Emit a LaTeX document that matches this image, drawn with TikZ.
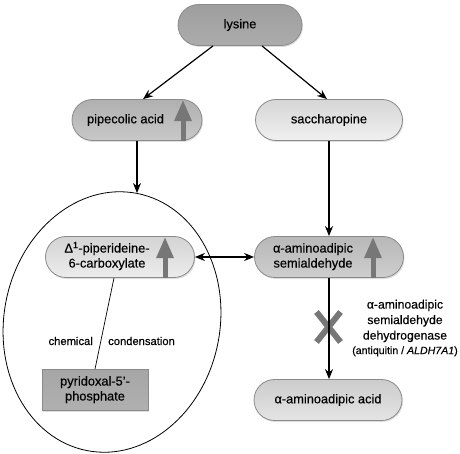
\documentclass[tikz,border=0pt]{standalone}
\usepackage{fontspec}
\setmainfont{Liberation Sans}[FakeBold=0.35]
\usetikzlibrary{shapes.misc,shapes.geometric,arrows.meta,calc,shadows}
\definecolor{gborder}{HTML}{8A8A8A}
\definecolor{garr}{HTML}{777777}
\newcommand\inarrow[2]{%
  \fill[garr] ([xshift=#2-2.5pt]#1.south) rectangle ([xshift=#2+2.5pt,yshift=-20pt]#1.north);
  \fill[garr] ([xshift=#2-9pt,yshift=-22pt]#1.north) -- ([xshift=#2,yshift=-1.5pt]#1.north) -- ([xshift=#2+9pt,yshift=-22pt]#1.north) -- cycle;}
\begin{document}
\begin{tikzpicture}[x=1pt,y=-1pt,
  pill/.style={rounded rectangle, draw=gborder, line width=0.8pt, minimum height=41pt,
    inner xsep=3pt, inner ysep=1pt, font=\fontsize{12.8}{15}\selectfont,
    drop shadow={shadow xshift=1pt, shadow yshift=-1.5pt, opacity=0.25}},
  box/.style={rectangle, draw=gborder, line width=0.8pt, minimum height=41pt,
    inner sep=1pt, font=\fontsize{12.8}{15}\selectfont,
    drop shadow={shadow xshift=1pt, shadow yshift=-1.5pt, opacity=0.25}},
  shadelys/.style={top color={rgb,255:red,158;green,158;blue,158}, bottom color={rgb,255:red,172;green,172;blue,172}},
  shadepip/.style={top color={rgb,255:red,176;green,176;blue,176}, bottom color={rgb,255:red,200;green,200;blue,200}},
  shadesac/.style={top color={rgb,255:red,214;green,214;blue,214}, bottom color={rgb,255:red,240;green,240;blue,240}},
  shadedel/.style={top color={rgb,255:red,212;green,212;blue,212}, bottom color={rgb,255:red,236;green,236;blue,236}},
  shadesem/.style={top color={rgb,255:red,184;green,184;blue,184}, bottom color={rgb,255:red,206;green,206;blue,206}},
  shadeacid/.style={top color={rgb,255:red,204;green,204;blue,204}, bottom color={rgb,255:red,228;green,228;blue,228}},
  shadepyr/.style={top color={rgb,255:red,166;green,166;blue,166}, bottom color={rgb,255:red,176;green,176;blue,176}},
  conn/.style={-{Stealth[length=10pt,width=8pt]}, line width=1.2pt},
  biconn/.style={{Stealth[length=10pt,width=8pt]}-{Stealth[length=10pt,width=8pt]}, line width=1.2pt},
  lbl/.style={font=\fontsize{11.2}{13}\selectfont, inner sep=1pt},
  enz/.style={font=\fontsize{12.2}{15.5}\selectfont, align=center, inner sep=1pt},
  xmark/.style={draw=garr, line width=6pt}
]
\useasboundingbox (0,0) rectangle (460,454);

% ellipse
\node[draw, ellipse, line width=0.8pt, minimum width=216pt, minimum height=262pt, inner sep=0pt, rotate=-11] (ell) at (112,322) {};

% nodes
\node[pill, shadelys, minimum width=130pt] (lys) at (240,25) {lysine};
\node[pill, shadepip, minimum width=136pt] (pip) at (137,120) {pipecolic acid\hspace*{23pt}};
\node[pill, shadesac, minimum width=153pt] (sac) at (329,120) {saccharopine};
\node[pill, shadedel, minimum width=155pt] (del) at (120,257)
  {\begin{tabular}{@{}c@{}}Δ\textsuperscript{1}-piperideine-\\6-carboxylate\end{tabular}\hspace*{26pt}};
\node[pill, shadesem, minimum width=155pt] (sem) at (329,257)
  {\begin{tabular}{@{}c@{}}α-aminoadipic\\semialdehyde\end{tabular}\hspace*{32pt}};
\node[pill, shadeacid, minimum width=154pt] (acid) at (328,400) {α-aminoadipic acid};
\node[box, shadepyr, minimum width=106pt] (pyr) at (95,390)
  {\begin{tabular}{@{}c@{}}pyridoxal-5’-\\phosphate\end{tabular}};

% up arrows inside nodes
\inarrow{pip}{46pt}
\inarrow{del}{45pt}
\inarrow{sem}{44pt}

% connectors
\draw[conn] ([xshift=-27pt]lys.south) -- ([xshift=6pt]pip.north);
\draw[conn] ([xshift=22pt]lys.south) -- ([xshift=-2pt]sac.north);
\draw[conn] (pip.south) -- (pip.south |- ell.north);
\draw[conn] (sac.south) -- (sem.north);
\draw[biconn] (del.east) -- (sem.west);
\draw[line width=0.7pt] ([xshift=-6pt]del.south) -- (pyr.north);

% blocked step
\coordinate (xc) at (328.5,327);
\draw[xmark] ([xshift=-12pt,yshift=15pt]xc) -- ([xshift=12pt,yshift=-15pt]xc);
\draw[xmark] ([xshift=12pt,yshift=15pt]xc) -- ([xshift=-12pt,yshift=-15pt]xc);
\draw[conn] (sem.south) -- (sem.south |- acid.north);

% labels
\node[lbl, anchor=east] (chem) at (94,341) {chemical};
\node[lbl, anchor=west] (cond) at (107,341) {condensation};
\node[enz] (enzyme) at (405,328) {α-aminoadipic\\semialdehyde\\dehydrogenase\\[-1pt]{\fontsize{10.6}{12}\selectfont (antiquitin / \textit{ALDH7A1})}};
\end{tikzpicture}
\end{document}
